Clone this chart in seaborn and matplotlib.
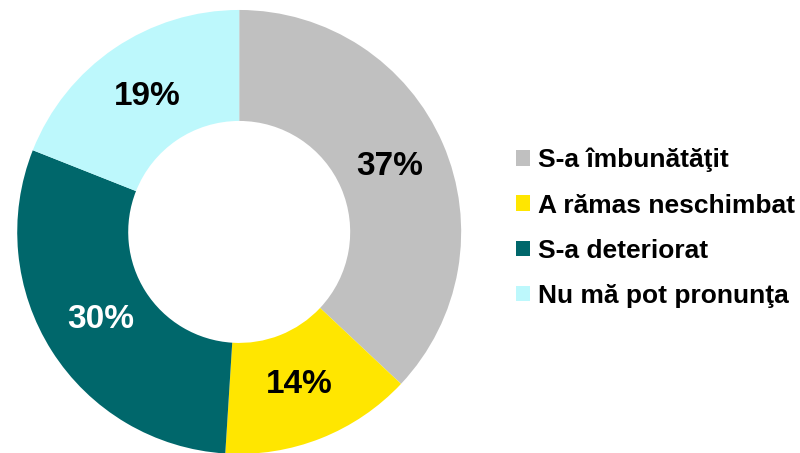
import matplotlib
matplotlib.use("Agg")
import matplotlib.pyplot as plt
import seaborn as sns

# %%
categories = ["S-a îmbunătăţit", "A rămas neschimbat", "S-a deteriorat", "Nu mă pot pronunţa"]
values = [37, 14, 30, 19]
colors = ["#C0C0C0", "#FFE600", "#00676B", "#BDF8FC"]
label_colors = ["black", "black", "white", "black"]

# %%
sns.set_theme(style="white")
plt.rcParams["font.family"] = ["Liberation Sans", "DejaVu Sans"]
plt.rcParams["text.color"] = "black"

fig = plt.figure(figsize=(8, 4.53), dpi=100)
ax = fig.add_axes([0.0215, -0.002, 0.555, 0.98])

wedges, texts, autotexts = ax.pie(
    values,
    colors=sns.color_palette(colors),
    startangle=90,
    counterclock=False,
    radius=1,
    wedgeprops=dict(width=0.5, linewidth=0),
    autopct="%d%%",
    pctdistance=0.74,
    textprops=dict(fontsize=24, fontweight="bold"),
)
for t, c in zip(autotexts, label_colors):
    t.set_color(c)

ax.set_xlim(-1, 1)
ax.set_ylim(-1, 1)
ax.set_aspect("equal")
ax.axis("off")

fig.legend(
    wedges,
    categories,
    loc="center left",
    bbox_to_anchor=(0.615, 0.497),
    frameon=False,
    prop=dict(size=19, weight="bold"),
    labelcolor="black",
    handlelength=0.53,
    handleheight=0.53,
    handletextpad=0.3,
    labelspacing=0.8,
)

fig.savefig("out.png", dpi=100)
